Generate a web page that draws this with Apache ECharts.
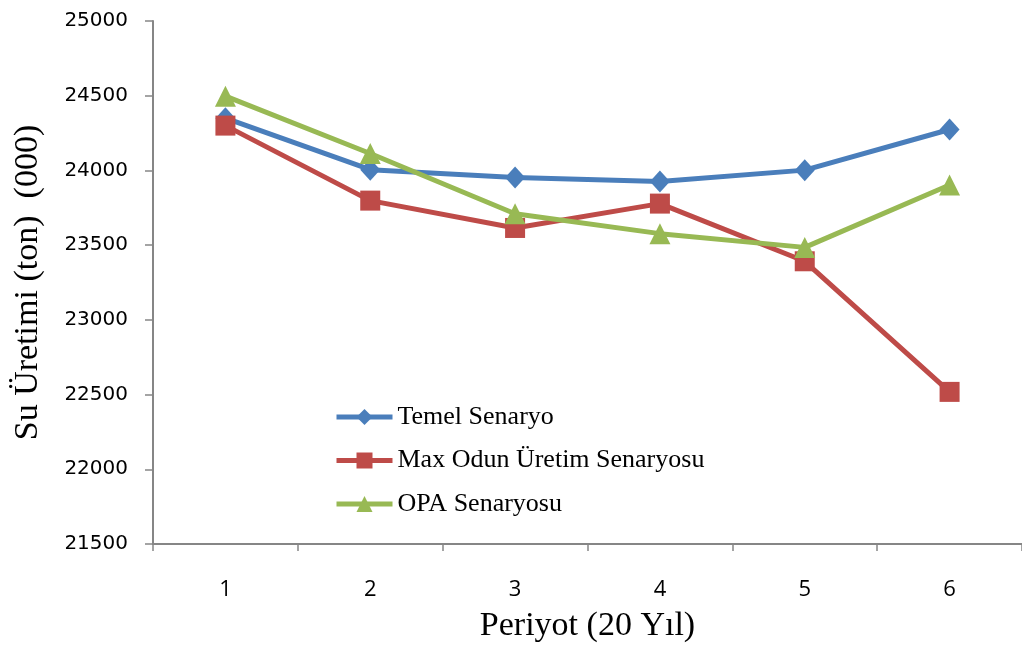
<!DOCTYPE html>
<html>
<head>
<meta charset="utf-8">
<script src="https://cdn.jsdelivr.net/npm/echarts@6/dist/echarts.min.js"></script>
<style>
  html, body { margin: 0; padding: 0; background: #fff; }
  #chart { width: 1022px; height: 648px; }
</style>
</head>
<body>
<div id="chart"></div>
<script>
// Periods (20-year steps) and water production per scenario (thousand tons)
const periods = ['1', '2', '3', '4', '5', '6'];
const temelSenaryo = [24350, 24005, 23952, 23926, 24002, 24274];
const maxOdunSenaryo = [24300, 23798, 23615, 23778, 23392, 22518];
const opaSenaryo = [24497, 24113, 23710, 23577, 23485, 23903];
const yTicks = { min: 21500, max: 25000, step: 500 };

const chart = echarts.init(document.getElementById('chart'));
const axisGray = '#868686';

function lineSeries(name, data, color, symbol, size) {
  return {
    name: name,
    type: 'line',
    data: data,
    symbol: symbol,
    symbolSize: size,
    lineStyle: { color: color, width: 5 },
    itemStyle: { color: color },
    emphasis: { disabled: true },
    z: 2
  };
}

chart.setOption({
  animation: false,
  backgroundColor: '#ffffff',
  grid: { left: 153, top: 21, right: -6, bottom: 97, containLabel: false },
  legend: {
    orient: 'vertical',
    left: 334,
    top: 404,
    padding: 0,
    itemWidth: 56,
    itemHeight: 20,
    itemGap: 17.5,
    lineStyle: { width: 5 },
    textStyle: { fontFamily: 'Liberation Serif', fontSize: 26, color: '#000' },
    data: ['Temel Senaryo', 'Max Odun Üretim Senaryosu', 'OPA Senaryosu']
  },
  xAxis: {
    type: 'category',
    data: periods,
    boundaryGap: true,
    name: 'Periyot (20 Yıl)',
    nameLocation: 'middle',
    nameGap: 65,
    nameTextStyle: { fontFamily: 'Liberation Serif', fontSize: 34, color: '#000' },
    axisLine: { lineStyle: { color: axisGray, width: 2 } },
    axisTick: { show: true, length: 7, lineStyle: { color: axisGray, width: 1.5 } },
    axisLabel: { margin: 35, fontFamily: 'Open Sans', fontSize: 22, color: '#000' },
    splitLine: { show: false }
  },
  yAxis: {
    type: 'value',
    min: yTicks.min,
    max: yTicks.max,
    interval: yTicks.step,
    name: 'Su Üretimi (ton)  (000)',
    nameLocation: 'middle',
    nameRotate: 90,
    nameGap: 108,
    nameTextStyle: { fontFamily: 'Liberation Serif', fontSize: 34, color: '#000' },
    axisLine: { show: true, lineStyle: { color: axisGray, width: 2 } },
    axisTick: { show: true, length: 8, lineStyle: { color: axisGray, width: 1.5 } },
    axisLabel: {
      margin: 25,
      fontFamily: 'DejaVu Sans',
      fontSize: 20,
      color: '#000',
      formatter: function (v) { return String(v); }
    },
    splitLine: { show: false }
  },
  series: [
    lineSeries('Temel Senaryo', temelSenaryo, '#4A7EBB', 'diamond', [20, 22]),
    lineSeries('Max Odun Üretim Senaryosu', maxOdunSenaryo, '#BE4B48', 'rect', 20),
    lineSeries('OPA Senaryosu', opaSenaryo, '#98B954', 'triangle', 21)
  ]
});
</script>
</body>
</html>
